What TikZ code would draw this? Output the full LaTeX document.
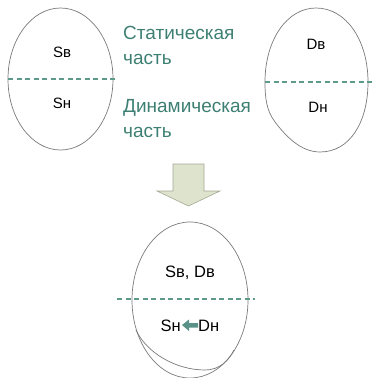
\documentclass[tikz,border=0pt]{standalone}
\usepackage{fontspec}
\setmainfont{Liberation Sans}
\usetikzlibrary{shapes.geometric}
\definecolor{teal1}{HTML}{3D7F73}
\definecolor{dashc}{HTML}{5E9A8A}
\definecolor{arrfill}{HTML}{DEE3CE}
\definecolor{arrline}{HTML}{A3A893}
\definecolor{egg}{HTML}{7A7A7A}
\begin{document}
\begin{tikzpicture}[x=1pt,y=-1pt,
  eggline/.style={draw=egg,line width=0.7pt},
  divider/.style={draw=dashc,line width=1.8pt,dash pattern=on 5pt off 3.5pt},
  lbl/.style={font=\fontsize{15}{17}\selectfont,text=black},
  lblb/.style={font=\fontsize{16.5}{18}\selectfont,text=black},
  part/.style={font=\fontsize{19}{22}\selectfont,text=teal1,anchor=base west,inner sep=0pt}]
\useasboundingbox (0,0) rectangle (375,378);
% left egg
\node[eggline,ellipse,minimum width=105pt,minimum height=142pt,inner sep=0pt] (L) at (60.5,79) {};
\draw[divider] (8,79) -- (118,79);
\node[lbl] (sb) at (62,52) {Sв};
\node[lbl] (sn) at (62,103) {Sн};
% texts
\node[part] (stat1) at (123,39) {Статическая};
\node[part] (stat2) at (123,64) {часть};
\node[part] (dyn1) at (123,112) {Динамическая};
\node[part] (dyn2) at (123,137) {часть};
% right egg
\draw[eggline] (316,8) .. controls (346,8) and (368,40) .. (368,82)
  .. controls (368,122) and (350,152) .. (320,152)
  .. controls (300,152) and (285,135) .. (275,122)
  .. controls (267,111) and (265,100) .. (265,82)
  .. controls (265,40) and (287,8) .. (316,8);
\coordinate (r1) at (265,82);
\coordinate (r2) at (373,82);
\draw[divider] (r1) -- (r2);
\node[lbl] (db) at (316,44) {Dв};
\node[lbl] (dn) at (318,107) {Dн};
% big arrow
\draw[fill=arrfill,draw=arrline,line width=0.6pt]
  (173,164) -- (204,164) -- (204,191) -- (220,191) -- (188.5,206) -- (157,191) -- (173,191) -- cycle;
% bottom egg
\node[eggline,ellipse,minimum width=116pt,minimum height=156pt,inner sep=0pt] (B) at (190,300) {};
\draw[eggline] (136,330) .. controls (146,352) and (175,370) .. (205,370)
  .. controls (220,370) and (229,360) .. (234,350);
\draw[divider] (117,299) -- (255,299);
\node[lblb] (sbdb) at (190,273) {Sв, Dв};
\node[lblb,anchor=east,inner sep=1pt] (sn2) at (182,326) {Sн};
\node[lblb,anchor=west,inner sep=1pt] (dn2) at (197,326) {Dн};
\draw[fill=teal1!85!white,draw=none]
  (182,325) -- (189,319.5) -- (189,323) -- (198,323) -- (198,327.5) -- (189,327.5) -- (189,331) -- cycle;
\end{tikzpicture}
\end{document}
